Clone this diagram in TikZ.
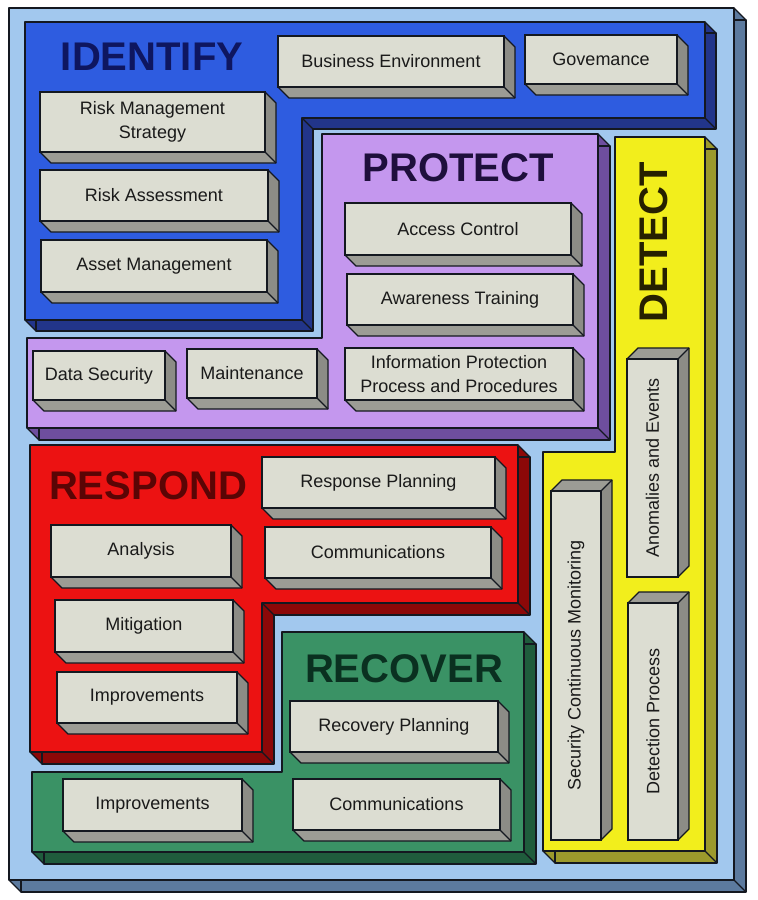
\documentclass[tikz,border=0pt]{standalone}
\usepackage{fontspec}
\setmainfont{Liberation Sans}
\definecolor{edgec}{HTML}{141820}
\definecolor{gfacec}{HTML}{DCDDD2}
\definecolor{gsidc}{HTML}{8C8C86}
\definecolor{gbotc}{HTML}{9C9C95}
\definecolor{textc}{HTML}{1A1A1A}
\definecolor{outf}{HTML}{A2C8EE}
\definecolor{outs}{HTML}{5C7A9E}
\definecolor{idf}{HTML}{2E5CE0}
\definecolor{ids}{HTML}{22358A}
\definecolor{idt}{HTML}{0E1660}
\definecolor{prf}{HTML}{C497EE}
\definecolor{prs}{HTML}{6E4E9E}
\definecolor{prt}{HTML}{1E0F3C}
\definecolor{dtf}{HTML}{F2EE1C}
\definecolor{dts}{HTML}{9C9A2C}
\definecolor{dtt}{HTML}{262000}
\definecolor{rsf}{HTML}{EC1212}
\definecolor{rss}{HTML}{8C0808}
\definecolor{rst}{HTML}{5A0505}
\definecolor{rcf}{HTML}{3A9265}
\definecolor{rcs}{HTML}{1F5C3C}
\definecolor{rct}{HTML}{0A3020}
\def\dd{11}
\newcommand{\panel}[5]{%
  \foreach \k in {0,0.5,...,#3} {\fill[#2, shift={(\k,\k)}] #4;}
  \draw[ln, shift={(#3,#3)}] #4;
  \foreach \px/\py in {#5} {\draw[ln] (\px,\py) -- ++(#3,#3);}
  \filldraw[ln, fill=#1] #4;
}
\newcommand{\gbox}[6]{%
  \fill[gbotc] (#2,#5) -- (#4,#5) -- ({#4+\dd},{#5+\dd}) -- ({#2+\dd},{#5+\dd}) -- cycle;
  \fill[gsidc] (#4,#3) -- ({#4+\dd},{#3+\dd}) -- ({#4+\dd},{#5+\dd}) -- (#4,#5) -- cycle;
  \draw[ln] (#2,#5) -- ({#2+\dd},{#5+\dd}) -- ({#4+\dd},{#5+\dd}) -- ({#4+\dd},{#3+\dd}) -- (#4,#3);
  \draw[ln] (#4,#5) -- ({#4+\dd},{#5+\dd});
  \node[gface, minimum width={#4-#2}, minimum height={#5-#3}] (#1) at ({(#2+#4)/2},{(#3+#5)/2}) {#6};
}
\newcommand{\gboxv}[6]{%
  \fill[gbotc] (#2,#3) -- ({#2+\dd},{#3-\dd}) -- ({#4+\dd},{#3-\dd}) -- (#4,#3) -- cycle;
  \fill[gsidc] (#4,#3) -- ({#4+\dd},{#3-\dd}) -- ({#4+\dd},{#5-\dd}) -- (#4,#5) -- cycle;
  \draw[ln] (#2,#3) -- ({#2+\dd},{#3-\dd}) -- ({#4+\dd},{#3-\dd}) -- ({#4+\dd},{#5-\dd}) -- (#4,#5);
  \draw[ln] (#4,#3) -- ({#4+\dd},{#3-\dd});
  \node[gface, rotate=90, minimum width={#5-#3}, minimum height={#4-#2}] (#1) at ({(#2+#4)/2},{(#3+#5)/2}) {#6};
}
\begin{document}
\begin{tikzpicture}[x=1pt,y=-1pt,
  ln/.style={draw=edgec, line width=1.3pt, line join=round},
  gface/.style={draw=edgec, fill=gfacec, line width=1.3pt, inner sep=0pt, align=center,
    font=\fontsize{18}{24}\selectfont, text=textc},
  ttl/.style={inner sep=0pt, font=\fontsize{40}{40}\selectfont\bfseries}]
\useasboundingbox[fill=white] (0,0) rectangle (758,900);

% outer panel
\panel{outf}{outs}{12}{(9,8) -- (734,8) -- (734,880) -- (9,880) -- cycle}{734/8,734/880,9/880}

% IDENTIFY
\panel{idf}{ids}{11}{(25,22) -- (705,22) -- (705,118) -- (302,118) -- (302,320) -- (25,320) -- cycle}{705/22,705/118,302/118,302/320,25/320}
% PROTECT
\panel{prf}{prs}{12}{(322,134) -- (598,134) -- (598,428) -- (27,428) -- (27,338) -- (322,338) -- cycle}{598/134,598/428,27/428,322/338}
% DETECT
\panel{dtf}{dts}{12}{(615,137) -- (705,137) -- (705,851) -- (543,851) -- (543,452) -- (615,452) -- cycle}{705/137,705/851,543/851,615/452}
% RESPOND
\panel{rsf}{rss}{12}{(30,445) -- (518,445) -- (518,603) -- (262,603) -- (262,752) -- (30,752) -- cycle}{518/445,518/603,262/603,262/752,30/752}
% RECOVER
\panel{rcf}{rcs}{12}{(282,632) -- (524,632) -- (524,852) -- (32,852) -- (32,772) -- (282,772) -- cycle}{524/632,524/852,32/852,282/772}

% titles
\node[ttl, text=idt] (tIdentify) at (152,57) {IDENTIFY};
\node[ttl, text=prt] (tProtect) at (458,168) {PROTECT};
\node[ttl, text=rst] (tRespond) at (148,486) {RESPOND};
\node[ttl, text=rct] (tRecover) at (404,669) {RECOVER};
\node[ttl, text=dtt, rotate=90] (tDetect) at (654,242) {DETECT};

% boxes
\gbox{be}{278}{36}{504}{87}{Business Environment}
\gbox{gov}{525}{35}{677}{84}{Govemance}
\gbox{rms}{40}{92}{265}{152}{Risk Management\\Strategy}
\gbox{ra}{40}{170}{268}{221}{Risk Assessment}
\gbox{am}{41}{240}{267}{292}{Asset Management}
\gbox{ac}{345}{203}{571}{255}{Access Control}
\gbox{at}{347}{274}{573}{325}{Awareness Training}
\gbox{ipp}{345}{348}{573}{400}{Information Protection\\Process and Procedures}
\gbox{ds}{33}{351}{165}{400}{Data Security}
\gbox{mt}{187}{349}{317}{398}{Maintenance}
\gbox{rp}{262}{457}{495}{508}{Response Planning}
\gbox{rc}{265}{527}{491}{578}{Communications}
\gbox{an}{51}{525}{231}{577}{Analysis}
\gbox{mi}{55}{600}{233}{652}{Mitigation}
\gbox{ri}{57}{672}{237}{723}{Improvements}
\gbox{recp}{290}{701}{498}{752}{Recovery Planning}
\gbox{recc}{293}{779}{500}{830}{Communications}
\gbox{reci}{63}{779}{242}{831}{Improvements}
\gboxv{ae}{627}{359}{678}{577}{Anomalies and Events}
\gboxv{scm}{551}{491}{601}{840}{Security Continuous Monitoring}
\gboxv{dp}{628}{603}{678}{840}{Detection Process}
\end{tikzpicture}
\end{document}
